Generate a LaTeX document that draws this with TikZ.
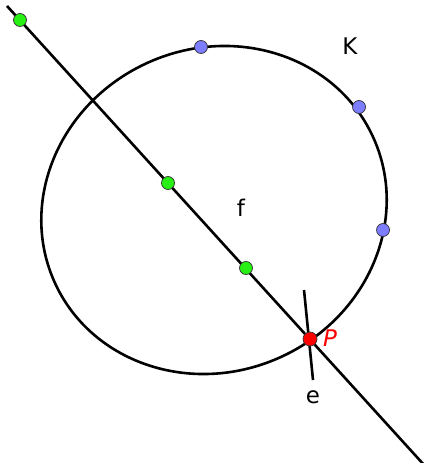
\documentclass[tikz,border=0pt]{standalone}
\usepackage{fontspec}
\setmainfont{DejaVu Sans}
\begin{document}
\begin{tikzpicture}[x=1bp,y=-1bp,
  curve/.style={line width=2.6bp, black},
  gpt/.style={circle, draw=black!80, line width=0.7bp, fill={rgb,255:red,40;green,240;blue,20}, minimum size=13bp, inner sep=0pt},
  bpt/.style={circle, draw=black!80, line width=0.7bp, fill={rgb,255:red,125;green,125;blue,255}, minimum size=13bp, inner sep=0pt},
  rpt/.style={circle, draw=black!80, line width=0.7bp, fill=red, minimum size=14bp, inner sep=0pt},
  lbl/.style={font=\fontsize{23}{23}\selectfont, inner sep=0pt}]
\useasboundingbox (0,0) rectangle (424,463);
\clip (0,0) rectangle (424,463);
% conic K
\draw[curve] (214,210) ellipse [x radius=175bp, y radius=161.5bp, rotate=25];
% coordinates
\coordinate (fa) at (7,6);
\coordinate (fb) at (425,466);
\coordinate (ea) at (304,290);
\coordinate (eb) at (313,380);
\draw[curve] (fa) -- (fb);
\draw[curve] (ea) -- (eb);
% points
\node[gpt] (g1) at (20,20) {};
\node[gpt] (g2) at (168,183) {};
\node[gpt] (g3) at (246,268) {};
\node[bpt] (b1) at (201,47) {};
\node[bpt] (b2) at (359,107) {};
\node[bpt] (b3) at (383,230) {};
\node[rpt] (P) at (310,339) {};
% labels
\node[lbl] (lK) at (350,46) {K};
\node[lbl] (lf) at (241,208) {f};
\node[lbl] (le) at (313,397) {e};
\node[lbl, text=red] (lP) at (330,338) {\itshape P};
\end{tikzpicture}
\end{document}
